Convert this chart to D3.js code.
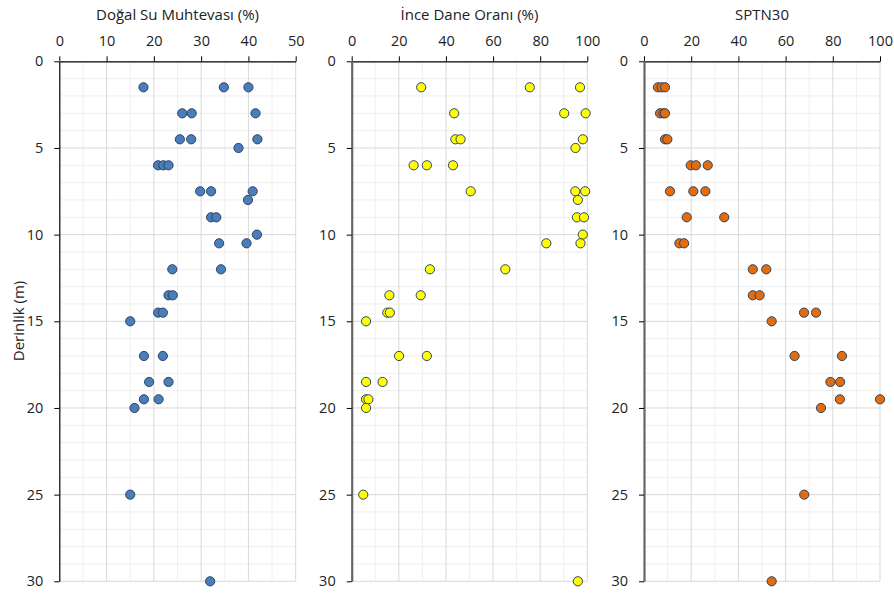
<!DOCTYPE html>
<html lang="tr">
<head>
<meta charset="UTF-8">
<script src="https://cdnjs.cloudflare.com/ajax/libs/d3/7.8.5/d3.min.js"></script>
<title>Derinlik profilleri</title>
<style>
  body { margin:0; background:#fff; }
  svg text { font-family:"Open Sans","Noto Sans",sans-serif; fill:#222; }
</style>
</head>
<body>
<svg id="chart" width="894" height="593"></svg>
<script>
// depths (m) shared by the first two series
var depths = [1.5,1.5,1.5, 3,3,3, 4.5,4.5,4.5, 5, 6,6,6, 7.5,7.5,7.5, 8, 9,9, 10, 10.5,10.5,
  12,12, 13.5,13.5, 14.5,14.5, 15, 17,17, 18.5,18.5, 19.5,19.5, 20, 25, 30];

// Doğal Su Muhtevası (%)
var suMuhtevasi = [17.8,34.8,40.0, 26.0,28.0,41.5, 25.5,27.9,41.9, 37.9, 20.9,22.0,23.1,
  29.8,32.1,40.9, 39.9, 32.1,33.2, 41.8, 33.8,39.6, 23.9,34.2, 23.1,24.0, 20.9,21.9, 15.0,
  17.9,21.9, 19.0,23.1, 17.9,21.0, 15.9, 15.0, 31.9];

// İnce Dane Oranı (%)
var inceDane = [29.5,75.6,96.9, 43.5,90.2,99.3, 44.0,46.2,98.1, 95.0, 26.3,31.9,43.0,
  50.5,94.9,99.1, 96.0, 95.6,98.6, 98.1, 82.6,97.1, 33.2,65.2, 16.0,29.3, 15.1,16.2, 6.1,
  20.1,31.9, 6.1,13.1, 6.1,7.1, 6.1, 4.9, 96.0];

// SPTN30 depths and values
var sptDepths = [1.5,1.5,1.5, 3,3,3, 4.5,4.5, 6,6,6, 7.5,7.5,7.5, 9,9, 10.5,10.5, 12,12,
  13.5,13.5, 14.5,14.5, 15, 17,17, 18.5,18.5, 19.5,19.5, 20, 25, 30];
var sptN30 = [5.9,7.5,8.9, 6.8,8.2,8.9, 8.9,9.9, 19.8,22.0,27.0, 11.0,20.9,26.0, 18.1,34.0,
  15.0,17.0, 46.1,51.8, 46.1,49.0, 67.8,72.9, 54.1, 63.8,83.9, 79.0,83.1, 83.0,100, 75.0,
  67.9, 54.1];

var titles = ["Doğal Su Muhtevası (%)", "İnce Dane Oranı (%)", "SPTN30"];
var yTicks = [0,5,10,15,20,25,30];

var panels = [
  {title:titles[0], x0:59.3, x1:295.7, max:50, step:10, minor:5, ys:depths, xs:suMuhtevasi,
   fill:"#4a7ebb", axisColor:"#000", axisW:1.2},
  {title:titles[1], x0:351.7, x1:587.3, max:100, step:20, minor:10, ys:depths, xs:inceDane,
   fill:"#ffff00", axisColor:"#666", axisW:2.2},
  {title:titles[2], x0:644, x1:880, max:100, step:20, minor:10, ys:sptDepths, xs:sptN30,
   fill:"#e46c0a", axisColor:"#666", axisW:2.2}
];

var svg = d3.select("#chart");
var plotTop = 61.3, plotBottom = 581.3;
var y = d3.scaleLinear().domain([0,30]).range([plotTop, plotBottom]);

panels.forEach(function(p){
  var x = d3.scaleLinear().domain([0,p.max]).range([p.x0, p.x1]);
  var g = svg.append("g");

  // minor grid
  g.selectAll(".mx").data(d3.range(p.minor, p.max + 0.01, p.minor).filter(function(v){return v % p.step !== 0;}))
    .enter().append("line")
    .attr("x1", function(d){return x(d);}).attr("x2", function(d){return x(d);})
    .attr("y1", plotTop).attr("y2", plotBottom)
    .attr("stroke", "#efefef").attr("stroke-width", 1);
  g.selectAll(".my").data(d3.range(1, 30).filter(function(v){return v % 5 !== 0;}))
    .enter().append("line")
    .attr("x1", p.x0).attr("x2", p.x1)
    .attr("y1", function(d){return y(d);}).attr("y2", function(d){return y(d);})
    .attr("stroke", "#efefef").attr("stroke-width", 1);

  // major grid
  g.selectAll(".Mx").data(d3.range(p.step, p.max + 0.01, p.step))
    .enter().append("line")
    .attr("x1", function(d){return x(d);}).attr("x2", function(d){return x(d);})
    .attr("y1", plotTop).attr("y2", plotBottom)
    .attr("stroke", "#d9d9d9").attr("stroke-width", 1);
  g.selectAll(".My").data(yTicks.slice(1))
    .enter().append("line")
    .attr("x1", p.x0).attr("x2", p.x1)
    .attr("y1", function(d){return y(d);}).attr("y2", function(d){return y(d);})
    .attr("stroke", "#d9d9d9").attr("stroke-width", 1);

  // top axis
  var xAxis = d3.axisTop(x).tickValues(d3.range(0, p.max + 0.01, p.step))
    .tickSize(5).tickSizeOuter(0).tickPadding(10);
  var xa = g.append("g").attr("transform", "translate(0," + plotTop + ")").call(xAxis);
  xa.select(".domain").attr("stroke", "#000").attr("stroke-width", 1.2);
  xa.selectAll(".tick line").attr("stroke", "#000");
  xa.selectAll("text").style("font-size", "14.5px").attr("fill", "#222");

  // left axis
  var yAxis = d3.axisLeft(y).tickValues(yTicks).tickSize(5).tickSizeOuter(0).tickPadding(11);
  var ya = g.append("g").attr("transform", "translate(" + p.x0 + ",0)").call(yAxis);
  ya.select(".domain").attr("stroke", p.axisColor).attr("stroke-width", p.axisW);
  ya.selectAll(".tick line").attr("stroke", "#000");
  ya.selectAll("text").style("font-size", "14.5px").attr("fill", "#222");

  // title
  g.append("text")
    .attr("x", (p.x0 + p.x1) / 2).attr("y", 20)
    .attr("text-anchor", "middle")
    .style("font-size", "15px")
    .text(p.title);

  // points
  g.selectAll("circle").data(p.xs)
    .enter().append("circle")
    .attr("cx", function(d){return x(d);})
    .attr("cy", function(d, i){return y(p.ys[i]);})
    .attr("r", 4.6)
    .attr("fill", p.fill)
    .attr("stroke", "#2c4466")
    .attr("stroke-width", 1);
});

// y axis title
svg.append("text")
  .attr("transform", "translate(24,321) rotate(-90)")
  .attr("text-anchor", "middle")
  .style("font-size", "15px")
  .text("Derinlik (m)");
</script>
</body>
</html>
